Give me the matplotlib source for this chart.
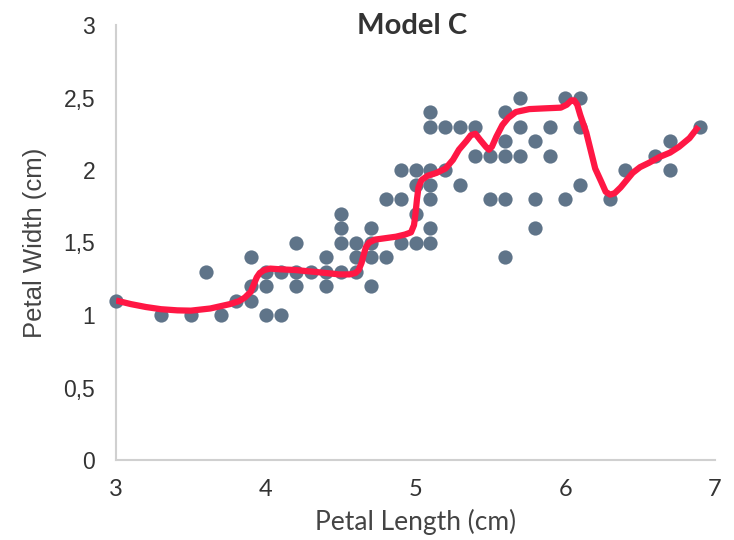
import matplotlib
matplotlib.use("Agg")
import matplotlib.pyplot as plt
from matplotlib.ticker import FuncFormatter

# Scatter data (petal length, petal width)
petal_length = [3.0, 3.3, 3.5, 3.6, 3.7, 3.8,
                3.9, 3.9, 3.9,
                4.0, 4.0, 4.0,
                4.1, 4.1,
                4.2, 4.2, 4.2,
                4.3,
                4.4, 4.4, 4.4,
                4.5, 4.5, 4.5, 4.5,
                4.6, 4.6, 4.6,
                4.7, 4.7, 4.7, 4.7,
                4.8, 4.8,
                4.9, 4.9, 4.9,
                5.0, 5.0, 5.0, 5.0,
                5.1, 5.1, 5.1, 5.1, 5.1, 5.1, 5.1,
                5.2, 5.2,
                5.3, 5.3,
                5.4, 5.4,
                5.5, 5.5,
                5.6, 5.6, 5.6, 5.6, 5.6,
                5.7, 5.7, 5.7,
                5.8, 5.8, 5.8,
                5.9, 5.9,
                6.0, 6.0,
                6.1, 6.1, 6.1,
                6.3, 6.4, 6.6,
                6.7, 6.7,
                6.9]
petal_width = [1.1, 1.0, 1.0, 1.3, 1.0, 1.1,
               1.1, 1.2, 1.4,
               1.0, 1.2, 1.3,
               1.0, 1.3,
               1.2, 1.3, 1.5,
               1.3,
               1.2, 1.3, 1.4,
               1.3, 1.5, 1.6, 1.7,
               1.3, 1.4, 1.5,
               1.2, 1.4, 1.5, 1.6,
               1.4, 1.8,
               1.5, 1.8, 2.0,
               1.5, 1.7, 1.9, 2.0,
               1.5, 1.6, 1.8, 1.9, 2.0, 2.3, 2.4,
               2.0, 2.3,
               1.9, 2.3,
               2.1, 2.3,
               1.8, 2.1,
               1.4, 1.8, 2.1, 2.2, 2.4,
               2.1, 2.3, 2.5,
               1.6, 1.8, 2.2,
               2.1, 2.3,
               1.8, 2.5,
               1.9, 2.3, 2.5,
               1.8, 2.0, 2.1,
               2.0, 2.2,
               2.3]

# Model C curve
curve_x = [3.00, 3.10, 3.20, 3.30, 3.41, 3.50, 3.63, 3.76, 3.82, 3.86, 3.90,
           3.92, 3.94, 3.96, 3.99, 4.03, 4.10, 4.20, 4.30, 4.40, 4.49, 4.56,
           4.60, 4.62, 4.64, 4.655, 4.67, 4.69, 4.73, 4.80, 4.87, 4.93, 4.97,
           4.99, 5.00, 5.01, 5.02, 5.04, 5.08, 5.14, 5.20, 5.25, 5.29, 5.34,
           5.37, 5.40, 5.43, 5.47, 5.49, 5.51, 5.54, 5.58, 5.62, 5.67, 5.76,
           5.86, 5.97, 6.01, 6.04, 6.06, 6.08, 6.10, 6.14, 6.20, 6.24, 6.27,
           6.30, 6.33, 6.37, 6.41, 6.45, 6.50, 6.56, 6.63, 6.70, 6.76, 6.83,
           6.89]
curve_y = [1.10, 1.075, 1.055, 1.04, 1.032, 1.03, 1.045, 1.075, 1.095, 1.12, 1.16,
           1.21, 1.26, 1.29, 1.31, 1.32, 1.315, 1.31, 1.30, 1.29, 1.28, 1.28,
           1.29, 1.31, 1.36, 1.42, 1.47, 1.50, 1.52, 1.53, 1.54, 1.555, 1.57,
           1.62, 1.70, 1.80, 1.88, 1.93, 1.96, 1.98, 2.01, 2.07, 2.14, 2.20,
           2.24, 2.25, 2.21, 2.16, 2.14, 2.16, 2.23, 2.31, 2.36, 2.40, 2.42,
           2.425, 2.43, 2.45, 2.48, 2.48, 2.45, 2.38, 2.26, 2.01, 1.92, 1.85,
           1.83, 1.84, 1.88, 1.93, 1.98, 2.02, 2.05, 2.09, 2.12, 2.16, 2.22,
           2.30]

x_ticks = [3, 4, 5, 6, 7]
y_ticks = [0, 0.5, 1, 1.5, 2, 2.5, 3]

fig = plt.figure(figsize=(7.34, 5.4), dpi=100)
ax = fig.add_axes([116/734, 80/540, (715-116)/734, (460-25)/540])

ax.scatter(petal_length, petal_width, s=105, color="#5f7489", zorder=2,
           linewidths=0, clip_on=False)
ax.plot(curve_x, curve_y, color="#ff1744", lw=4.5, solid_capstyle="butt",
        solid_joinstyle="round", zorder=3)

ax.set_xlim(3, 7)
ax.set_ylim(0, 3)
ax.set_xticks(x_ticks)
ax.set_yticks(y_ticks)

def comma(v, pos):
    s = ("%g" % v)
    return s.replace(".", ",")

ax.yaxis.set_major_formatter(FuncFormatter(comma))
ax.xaxis.set_major_formatter(FuncFormatter(comma))

for s in ["top", "right"]:
    ax.spines[s].set_visible(False)
for s in ["left", "bottom"]:
    ax.spines[s].set_color("#d0d0d0")
    ax.spines[s].set_linewidth(1.5)
    ax.spines[s].set_zorder(1)
ax.tick_params(length=0)
ax.tick_params(axis="y", pad=15, labelsize=16.5, labelcolor="#333333")
ax.tick_params(axis="x", pad=14, labelsize=17, labelcolor="#333333")
for lab in ax.get_yticklabels():
    lab.set_fontfamily("Liberation Sans")
for lab in ax.get_xticklabels():
    lab.set_fontfamily("Lato")

ax.set_xlabel("Petal Length (cm)", fontsize=19, color="#444444", family="Lato", labelpad=6)
ax.set_ylabel("Petal Width (cm)", fontsize=18.5, color="#444444", family="Liberation Sans", labelpad=12)

fig.text(0.561, 0.952, "Model C", ha="center", va="center", fontsize=21,
         fontweight="bold", color="#333333", family="Lato")

fig.savefig("out.png", dpi=100)
